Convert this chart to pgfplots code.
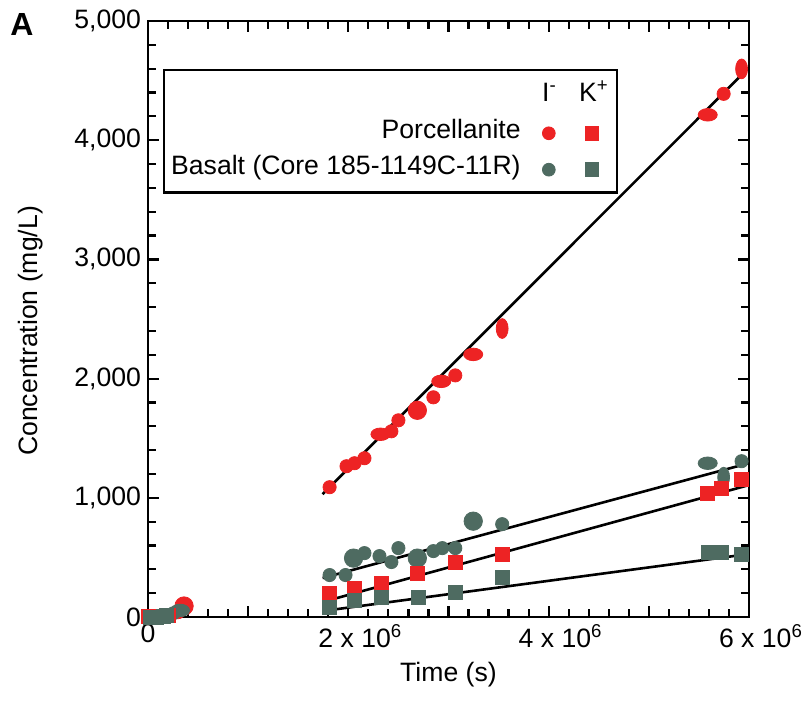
\documentclass[border=0pt]{standalone}
\usepackage{fontspec}
\setmainfont{Liberation Sans}
\usepackage{pgfplots}
\pgfplotsset{compat=1.18}

\definecolor{pred}{RGB}{237,35,36}
\definecolor{pgreen}{RGB}{78,107,97}
\newcommand{\fs}{\fontsize{13.3}{16}\selectfont}

% elliptic marks for smeared points
\pgfdeclareplotmark{wideoval}{%
  \pgfpathellipse{\pgfpointorigin}{\pgfqpoint{1.45\pgfplotmarksize}{0pt}}{\pgfqpoint{0pt}{0.95\pgfplotmarksize}}%
  \pgfusepathqfillstroke}
\pgfdeclareplotmark{talloval}{%
  \pgfpathellipse{\pgfpointorigin}{\pgfqpoint{0.9\pgfplotmarksize}{0pt}}{\pgfqpoint{0pt}{1.5\pgfplotmarksize}}%
  \pgfusepathqfillstroke}

% filled blobs: n = normal, b = big, w = wide, t = tall
\pgfplotsset{
  blobs/.style={only marks, mark=*, mark size=3.3pt, scatter, scatter src=explicit symbolic,
    scatter/classes={
      n={mark=*,#1},
      b={mark=*,mark size=4.6pt,#1},
      w={mark=wideoval,#1},
      t={mark=talloval,#1}}},
  boxes/.style={only marks, mark=square*, mark size=3.5pt, #1},
  fit/.style={black, line width=1.3pt, no marks},
  % one legend row: iodide circle, then potassium square
  legpair/.style={legend image code/.code={%
      \fill[opacity=0] (-13.5pt,-1pt) rectangle (30pt,1pt);
      \draw[##1, line width=0.4pt] plot coordinates {(0pt,-1pt)};
      \draw[##1, line width=0.4pt, mark=square*, mark size=3.4pt] plot coordinates {(21.5pt,-1pt)};}},
  leghead/.style={legend image code/.code={%
      \fill[opacity=0] (-13.5pt,-1pt) rectangle (30pt,1pt);
      \node[inner sep=0pt, anchor=center] at (0.3pt,0pt) {I\textsuperscript{-}};
      \node[inner sep=0pt, anchor=center] at (22.6pt,0pt) {K\textsuperscript{+}};}},
}

\begin{document}
\begin{tikzpicture}
\begin{axis}[
  name=ax,
  scale only axis, width=300.5pt, height=298pt,
  xmin=0, xmax=6000000, ymin=0, ymax=5000,
  clip=false,
  axis line style={line width=1.3pt},
  every tick/.style={black, line width=1.1pt},
  major tick length=5.5pt, minor tick length=3.8pt,
  xtick={0,1000000,2000000,3000000,4000000,5000000,6000000},
  xticklabels={0,,{\hspace*{12pt}2 x 10\textsuperscript{6}},,{\hspace*{12pt}4 x 10\textsuperscript{6}},,{\hspace*{12pt}6 x 10\textsuperscript{6}}},
  scaled x ticks=false,
  minor x tick num=4,
  ytick={0,1000,2000,3000,4000,5000},
  minor y tick num=4,
  /pgf/number format/assume math mode=true,
  /pgf/number format/1000 sep={,},
  tick label style={font=\fs},
  label style={font=\fs},
  xlabel={Time (s)},
  ylabel={Concentration (mg/L)},
  xlabel style={at={(axis description cs:0.5,-0.097)}, anchor=center},
  ylabel style={at={(axis description cs:-0.195,0.48)}, anchor=center},
  legend columns=1,
  legend plot pos=right,
  legend cell align=right,
  legend style={at={(axis description cs:0.025,0.92)}, anchor=north west,
    draw=black, line width=1.2pt, font=\fs,
    inner xsep=3.5pt, inner ysep=6pt, column sep=0pt, row sep=5.2pt,
    nodes={inner sep=0pt, text height=10pt, text depth=3pt}},
]

% ---- legend ----
\addlegendimage{leghead}
\addlegendentry{}
\addlegendimage{only marks, mark=*, mark size=3.2pt, color=pred, legpair}
\addlegendentry{Porcellanite}
\addlegendimage{only marks, mark=*, mark size=3.2pt, color=pgreen, legpair}
\addlegendentry{Basalt (Core 185-1149C-11R)}

% ---- fitted lines ----
\addplot[fit, forget plot] coordinates {(1743000,1030) (5996000,4606)};
\addplot[fit, forget plot] coordinates {(1743000,327) (5996000,1290)};
\addplot[fit, forget plot] coordinates {(1743000,126) (5996000,1106)};
\addplot[fit, forget plot] coordinates {(1743000,50) (5996000,528)};

% ---- Porcellanite, iodide ----
\addplot[blobs={color=pred}, forget plot] table[meta=c] {
x y c
300000 40 n
360000 92 b
1813000 1089 n
1982000 1265 n
2062000 1290 n
2161000 1332 n
2321000 1533 w
2430000 1558 n
2500000 1650 n
2689000 1734 b
2849000 1843 n
2928000 1977 w
3068000 2027 n
3247000 2203 w
3536000 2420 t
5588000 4213 w
5747000 4389 n
5926000 4598 t
};

% ---- Basalt, iodide ----
\addplot[blobs={color=pgreen}, forget plot] table[meta=c] {
x y c
120000 10 n
250000 30 n
320000 55 w
1813000 352 n
1972000 352 n
2052000 494 b
2161000 536 n
2311000 511 n
2430000 461 n
2500000 578 n
2689000 494 b
2849000 553 n
2938000 578 n
3068000 578 n
3247000 804 b
3536000 779 n
5588000 1290 w
5747000 1173 t
5926000 1307 n
};

% ---- Porcellanite, potassium ----
\addplot[boxes={color=pred}, forget plot] table {
x y
0 5
100000 5
200000 10
1813000 201
2062000 243
2331000 285
2689000 369
3068000 461
3536000 528
5588000 1039
5727000 1080
5926000 1156
};

% ---- Basalt, potassium ----
\addplot[boxes={color=pgreen}, forget plot] table {
x y
20000 0
80000 0
150000 5
180000 10
1813000 84
2062000 142
2331000 168
2699000 168
3068000 209
3536000 335
5598000 544
5727000 544
5926000 528
};
\end{axis}

\node[anchor=base west, inner sep=0pt, font=\fontsize{16}{18}\selectfont\bfseries]
  at ([shift={(-69pt,290.5pt)}]ax.south west) {A};

\pgfresetboundingbox
\path ([shift={(-74pt,-45.5pt)}]ax.south west) rectangle ++(405pt,354pt);
\end{tikzpicture}
\end{document}
